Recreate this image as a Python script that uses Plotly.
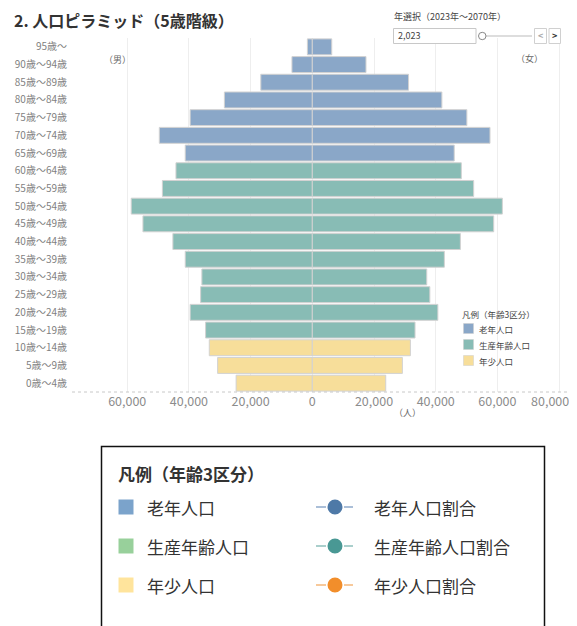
import plotly.graph_objects as go

# ---------------- data ----------------
age_groups = ["0歳～4歳", "5歳～9歳", "10歳～14歳", "15歳～19歳", "20歳～24歳",
              "25歳～29歳", "30歳～34歳", "35歳～39歳", "40歳～44歳", "45歳～49歳",
              "50歳～54歳", "55歳～59歳", "60歳～64歳", "65歳～69歳", "70歳～74歳",
              "75歳～79歳", "80歳～84歳", "85歳～89歳", "90歳～94歳", "95歳～"]
male = [24700, 30700, 33400, 34600, 39600, 36200, 35800, 41200, 45200, 54900,
        58700, 48600, 44200, 41200, 49600, 39600, 28500, 16700, 6600, 1600]
female = [23800, 29200, 31800, 33300, 40700, 38100, 37100, 42800, 48000, 58800,
          61600, 52300, 48300, 46000, 57600, 50100, 42000, 31200, 17400, 6300]
age_class = ["年少人口"] * 3 + ["生産年齢人口"] * 10 + ["老年人口"] * 7
class_names = ["老年人口", "生産年齢人口", "年少人口"]
ratio_names = ["老年人口割合", "生産年齢人口割合", "年少人口割合"]
x_tick_vals = [-60000, -40000, -20000, 0, 20000, 40000, 60000, 80000]
x_tick_text = ["60,000", "40,000", "20,000", "0", "20,000", "40,000", "60,000", "80,000"]

# ---------------- style ----------------
FONT = "Noto Sans CJK JP"
bar_colors = {"老年人口": "#8AA7C8", "生産年齢人口": "#88BCB5", "年少人口": "#F7DE9A"}
legend_sq_colors = ["#7BA3CB", "#98D09B", "#FFE49C"]
legend_dot_colors = ["#4E79A7", "#499894", "#F28E2B"]
legend_dash_colors = ["#8FAACB", "#8EBFBB", "#F5B77A"]

OFF = 8  # page body margin
W, H = 577 - OFF, 626 - OFF
PL, PT = 72, 38          # plot area left/top in window pixels
PW, PH = 505, 354
L, T = PL - OFF, PT - OFF
R, B = W - L - PW, H - T - PH


def X(px):
    return (px - PL) / PW


def Y(py):
    return (PT + PH - py) / PH


fig = go.Figure()
for cls in class_names:
    idx = [i for i, c in enumerate(age_class) if c == cls]
    cats = [age_groups[i] for i in idx]
    fig.add_trace(go.Bar(
        y=cats, x=[-male[i] for i in idx], orientation="h",
        marker=dict(color=bar_colors[cls], line=dict(color="#d2d2d2", width=1)),
        showlegend=False, name=cls, xaxis="x", yaxis="y"))
    # female bars drawn on the overlaid (identical) axis x2
    fig.add_trace(go.Bar(
        y=cats, x=[female[i] for i in idx], orientation="h",
        marker=dict(color=bar_colors[cls], line=dict(color="#d2d2d2", width=1)),
        showlegend=False, name=cls, xaxis="x2", yaxis="y"))

shapes = []
annotations = []

# dotted bottom axis line
shapes.append(dict(type="line", xref="paper", yref="paper", x0=0, x1=1, y0=0, y1=0,
                   line=dict(color="#c8c8c8", width=1, dash="dot")))

# title
annotations.append(dict(text="<b>2. 人口ピラミッド（5歳階級）</b>", xref="paper", yref="paper",
                        x=X(12), y=Y(20), xanchor="left", yanchor="middle", showarrow=False,
                        font=dict(family=FONT, size=16, color="#333333")))

# (男) (女) (人)
for txt, px, py in [("（男）", 117, 60), ("（女）", 529, 59), ("（人）", 407, 412)]:
    annotations.append(dict(text=txt, xref="paper", yref="paper", x=X(px), y=Y(py),
                            xanchor="center", yanchor="middle", showarrow=False,
                            font=dict(family=FONT, size=9, color="#666666")))

# year selector widget
annotations.append(dict(text="年選択（2023年～2070年）", xref="paper", yref="paper",
                        x=X(392), y=Y(16), xanchor="left", yanchor="middle", showarrow=False,
                        font=dict(family=FONT, size=9, color="#444444")))
shapes.append(dict(type="rect", xref="paper", yref="paper", x0=X(393.5), x1=X(476),
                   y0=Y(43.5), y1=Y(28.5), line=dict(color="#c8c8c8", width=1),
                   fillcolor="white"))
annotations.append(dict(text="2,023", xref="paper", yref="paper", x=X(396), y=Y(36),
                        xanchor="left", yanchor="middle", showarrow=False,
                        font=dict(family=FONT, size=9, color="#444444")))
shapes.append(dict(type="line", xref="paper", yref="paper", x0=X(486), x1=X(532),
                   y0=Y(36), y1=Y(36), line=dict(color="#dddddd", width=2)))
shapes.append(dict(type="circle", xref="paper", yref="paper", x0=X(478.5), x1=X(486),
                   y0=Y(39.7), y1=Y(32.3), line=dict(color="#888888", width=1),
                   fillcolor="white"))
for x0, x1, ch, col in [(534.5, 546.5, "<", "#aaaaaa"), (549, 560.5, ">", "#333333")]:
    shapes.append(dict(type="rect", xref="paper", yref="paper", x0=X(x0), x1=X(x1),
                       y0=Y(43.5), y1=Y(28.5), line=dict(color="#d0d0d0", width=1),
                       fillcolor="white"))
    annotations.append(dict(text="<b>" + ch + "</b>", xref="paper", yref="paper",
                            x=X((x0 + x1) / 2), y=Y(36), xanchor="center", yanchor="middle",
                            showarrow=False, font=dict(family=FONT, size=9, color=col)))

# inner legend
annotations.append(dict(text="凡例（年齢3区分）", xref="paper", yref="paper", x=X(460), y=Y(314),
                        xanchor="left", yanchor="middle", showarrow=False,
                        font=dict(family=FONT, size=8.5, color="#444444")))
for i, cls in enumerate(class_names):
    cy = [328.5, 344.5, 360.5][i]
    shapes.append(dict(type="rect", xref="paper", yref="paper", x0=X(463.5), x1=X(473.5),
                       y0=Y(cy + 5), y1=Y(cy - 5), line=dict(color="#cccccc", width=0.5),
                       fillcolor=bar_colors[cls]))
    annotations.append(dict(text=cls, xref="paper", yref="paper", x=X(477), y=Y(cy),
                            xanchor="left", yanchor="middle", showarrow=False,
                            font=dict(family=FONT, size=8.5, color="#444444")))

# bottom legend box
shapes.append(dict(type="rect", xref="paper", yref="paper", x0=X(101.5), x1=X(544.5),
                   y0=Y(720), y1=Y(446.5), line=dict(color="#111111", width=1.5)))
annotations.append(dict(text="<b>凡例（年齢3区分）</b>", xref="paper", yref="paper",
                        x=X(116), y=Y(473), xanchor="left", yanchor="middle", showarrow=False,
                        font=dict(family=FONT, size=17, color="#333333")))
row_y = [507, 546, 585]
for i in range(3):
    cy = row_y[i]
    shapes.append(dict(type="rect", xref="paper", yref="paper", x0=X(118.5), x1=X(133.5),
                       y0=Y(cy + 7.5), y1=Y(cy - 7.5), line=dict(width=0),
                       fillcolor=legend_sq_colors[i]))
    annotations.append(dict(text=class_names[i], xref="paper", yref="paper", x=X(145),
                            y=Y(cy), xanchor="left", yanchor="middle", showarrow=False,
                            font=dict(family=FONT, size=17, color="#333333")))
    for a, b in [(316, 326), (344, 353)]:
        shapes.append(dict(type="line", xref="paper", yref="paper", x0=X(a), x1=X(b),
                           y0=Y(cy), y1=Y(cy), line=dict(color=legend_dash_colors[i], width=1.5)))
    shapes.append(dict(type="circle", xref="paper", yref="paper", x0=X(327.5), x1=X(342.5),
                       y0=Y(cy + 7.5), y1=Y(cy - 7.5), line=dict(width=0),
                       fillcolor=legend_dot_colors[i]))
    annotations.append(dict(text=ratio_names[i], xref="paper", yref="paper", x=X(372),
                            y=Y(cy), xanchor="left", yanchor="middle", showarrow=False,
                            font=dict(family=FONT, size=17, color="#333333")))

x_range = [-77900, 85800]
tick_font = dict(family=FONT, size=12.5, color="#8c8c8c")

fig.update_layout(
    width=W, height=H,
    margin=dict(l=L, r=R, t=T, b=B, pad=0),
    paper_bgcolor="white", plot_bgcolor="white",
    barmode="relative", bargap=0.1,
    font=dict(family=FONT),
    shapes=shapes, annotations=annotations,
    xaxis=dict(range=x_range, tickvals=x_tick_vals,
               ticktext=x_tick_text[:-1] + [""],
               showgrid=True, gridcolor="#eeeeee", gridwidth=1,
               zeroline=False, showline=False, ticks="", automargin=False,
               tickfont=tick_font, fixedrange=True),
    # edge tick label, nudged inward as in the original
    xaxis2=dict(range=x_range, overlaying="x", anchor="y", side="bottom",
                tickvals=x_tick_vals[-1:], ticktext=x_tick_text[-1:],
                ticklabelshift=-9, ticklabeloverflow="allow",
                showgrid=False, zeroline=False, showline=False, ticks="",
                automargin=False, tickfont=tick_font, fixedrange=True),
    yaxis=dict(categoryorder="array", categoryarray=age_groups, range=[-0.5, 19.5],
               showgrid=False, zeroline=False, showline=False, ticks="",
               ticklabelstandoff=4, automargin=False,
               tickfont=dict(family=FONT, size=10, color="#7f7f7f"), fixedrange=True),
)

fig.write_html("out.html")
